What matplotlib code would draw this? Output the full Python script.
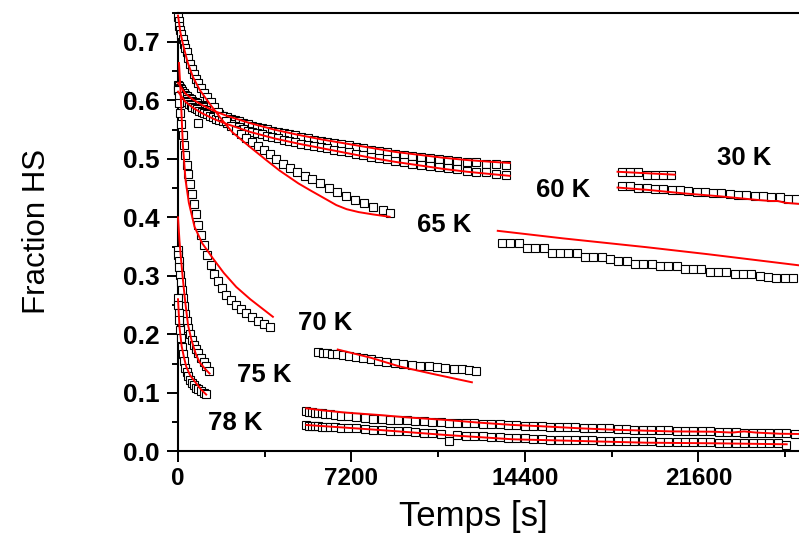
import matplotlib
matplotlib.use('Agg')
import matplotlib.pyplot as plt
from matplotlib.ticker import FixedLocator, MultipleLocator, FormatStrFormatter

# ---------------- data ----------------
# bundle (two slow series, 30 K / 60 K)
T_BUNDLE = [0, 40, 80, 130, 180, 240, 300, 370, 440, 520, 600, 690, 780, 880, 980, 1090,
            1200, 1320, 1450, 1580, 1720, 1870, 2020, 2180, 2350, 2520, 2700, 2890, 3080,
            3280, 3490, 3700, 3920, 4150, 4380, 4620, 4870, 5120, 5380, 5650, 5920, 6200,
            6490, 6780, 7080, 7390, 7700, 8020, 8350, 8680, 9020, 9370, 9720, 10080, 10450,
            10820, 11200, 11590, 11980, 12380, 12790, 13200, 13620]
BUNDLE_A = [0.627, 0.624, 0.621, 0.619, 0.616, 0.612, 0.609, 0.607, 0.604, 0.602, 0.599,
            0.597, 0.595, 0.592, 0.590, 0.588, 0.585, 0.583, 0.581, 0.579, 0.576, 0.574,
            0.571, 0.569, 0.567, 0.565, 0.562, 0.560, 0.557, 0.555, 0.553, 0.551, 0.548,
            0.546, 0.544, 0.542, 0.540, 0.537, 0.535, 0.533, 0.531, 0.529, 0.527, 0.525,
            0.523, 0.521, 0.519, 0.516, 0.514, 0.512, 0.509, 0.507, 0.505, 0.504, 0.502,
            0.500, 0.498, 0.497, 0.495, 0.494, 0.492, 0.491, 0.490]
BUNDLE_B = [0.617, 0.614, 0.611, 0.608, 0.605, 0.602, 0.599, 0.597, 0.594, 0.592, 0.589,
            0.587, 0.585, 0.582, 0.580, 0.578, 0.576, 0.573, 0.571, 0.569, 0.566, 0.564,
            0.561, 0.559, 0.556, 0.554, 0.551, 0.548, 0.546, 0.544, 0.542, 0.539, 0.537,
            0.535, 0.533, 0.531, 0.529, 0.526, 0.524, 0.522, 0.520, 0.518, 0.515, 0.513,
            0.511, 0.509, 0.506, 0.504, 0.501, 0.499, 0.497, 0.494, 0.492, 0.490, 0.488,
            0.486, 0.484, 0.482, 0.480, 0.478, 0.477, 0.475, 0.473]
FIT_A_T = [0, 300, 600, 1000, 1500, 2000, 3000, 4000, 5000, 6000, 7000, 8000, 9000,
           10000, 11000, 12000, 13000, 13770]
FIT_A_Y = [0.630, 0.612, 0.602, 0.592, 0.582, 0.574, 0.561, 0.550, 0.541, 0.533, 0.526,
           0.519, 0.512, 0.507, 0.502, 0.498, 0.495, 0.493]
FIT_B_T = [0, 300, 600, 1000, 1500, 2000, 3000, 4000, 5000, 6000, 7000, 8000, 9000,
           10000, 11000, 12000, 13000, 13770]
FIT_B_Y = [0.615, 0.598, 0.588, 0.578, 0.568, 0.560, 0.546, 0.535, 0.526, 0.518, 0.510,
           0.502, 0.495, 0.489, 0.483, 0.478, 0.474, 0.471]
OUTLIER_T = [823]
OUTLIER_Y = [0.561]

# late segments of the slow series
T_SEG_U = [18413, 18758, 19103, 19451, 19796, 20141, 20461]
SEG_U = [0.477, 0.477, 0.477, 0.473, 0.473, 0.473, 0.473]
FIT_U_T = [18247, 20627]
FIT_U_Y = [0.478, 0.473]
T_SEG_L = [18420, 18765, 19110, 19455, 19800, 20145, 20490, 20835, 21180, 21525, 21870,
           22215, 22560, 22905, 23250, 23595, 23940, 24285, 24630, 24975, 25320, 25665]
SEG_L = [0.454, 0.453, 0.451, 0.450, 0.449, 0.448, 0.447, 0.446, 0.445, 0.444, 0.443,
         0.442, 0.441, 0.440, 0.439, 0.438, 0.437, 0.436, 0.435, 0.434, 0.432, 0.431]
FIT_L_T = [18247, 19500, 21000, 22500, 24000, 24600, 24900, 25200, 25780]
FIT_L_Y = [0.451, 0.447, 0.441, 0.436, 0.430, 0.428, 0.428, 0.425, 0.423]

# 65 K
T_65 = [0, 30, 60, 100, 140, 190, 240, 300, 360, 430, 500, 580, 660, 750, 850, 960, 1080,
        1210, 1350, 1500, 1660, 1830, 2010, 2200, 2400, 2610, 2830, 3060, 3300, 3550, 3810,
        4080, 4360, 4650, 4950, 5260, 5580, 5910, 6250, 6600, 6960, 7330, 7710, 8100, 8500,
        8790]
Y_65 = [0.742, 0.735, 0.727, 0.720, 0.713, 0.705, 0.697, 0.690, 0.682, 0.672, 0.662, 0.654,
        0.646, 0.637, 0.629, 0.621, 0.613, 0.605, 0.597, 0.589, 0.581, 0.573, 0.565, 0.557,
        0.550, 0.543, 0.536, 0.529, 0.522, 0.515, 0.508, 0.499, 0.491, 0.484, 0.477, 0.471,
        0.465, 0.458, 0.451, 0.443, 0.436, 0.430, 0.424, 0.418, 0.412, 0.407]
FIT_65_T = [0, 100, 200, 400, 620, 900, 1300, 1800, 2270, 3000, 3660, 4217, 5000, 5500,
            6016, 6572, 7000, 7500, 8100, 8786]
FIT_65_Y = [0.745, 0.716, 0.697, 0.665, 0.640, 0.618, 0.595, 0.568, 0.545, 0.520, 0.498,
            0.480, 0.458, 0.446, 0.434, 0.421, 0.414, 0.409, 0.405, 0.401]
T_65B = [13450, 13795, 14140, 14485, 14830, 15175, 15520, 15865, 16210, 16555, 16900,
         17245, 17590, 17935, 18280, 18625, 18970, 19315, 19660, 20005, 20350, 20695,
         21040, 21385, 21730, 22075, 22420, 22765, 23110, 23455, 23800, 24145, 24490,
         24835, 25180, 25525]
Y_65B = [0.357, 0.356, 0.356, 0.348, 0.348, 0.348, 0.339, 0.339, 0.339, 0.339, 0.332,
         0.332, 0.332, 0.329, 0.326, 0.325, 0.320, 0.320, 0.320, 0.316, 0.316, 0.316,
         0.312, 0.312, 0.312, 0.307, 0.307, 0.307, 0.303, 0.303, 0.303, 0.300, 0.298,
         0.297, 0.297, 0.297]
FIT_65B_T = [13274, 16000, 19450, 22000, 25780]
FIT_65B_Y = [0.377, 0.364, 0.349, 0.337, 0.318]

# 70 K
T_70 = [0, 30, 60, 100, 140, 190, 240, 300, 360, 430, 500, 580, 660, 750, 850, 960, 1080,
        1210, 1350, 1500, 1660, 1830, 2010, 2200, 2400, 2610, 2830, 3060, 3300, 3550, 3810]
Y_70 = [0.618, 0.607, 0.595, 0.578, 0.560, 0.540, 0.523, 0.506, 0.490, 0.474, 0.457,
        0.440, 0.423, 0.405, 0.387, 0.370, 0.352, 0.335, 0.318, 0.304, 0.291, 0.279,
        0.268, 0.259, 0.250, 0.243, 0.236, 0.229, 0.223, 0.218, 0.213]
FIT_70_T = [40, 100, 133, 199, 312, 450, 685, 1000, 1446, 1900, 2418, 3000, 3500, 3939]
FIT_70_Y = [0.664, 0.620, 0.589, 0.525, 0.464, 0.425, 0.384, 0.356, 0.330, 0.305, 0.281,
            0.260, 0.244, 0.230]
T_70B = [5800, 6000, 6200, 6400, 6600, 6850, 7100, 7400, 7700, 8000, 8300, 8650, 9000,
         9350, 9700, 10050, 10400, 10750, 11100, 11450, 11800, 12100, 12350]
Y_70B = [0.169, 0.168, 0.168, 0.167, 0.166, 0.164, 0.163, 0.161, 0.159, 0.157, 0.155,
         0.153, 0.151, 0.149, 0.148, 0.146, 0.145, 0.144, 0.142, 0.141, 0.140, 0.139, 0.138]
FIT_70B_T = [6630, 8000, 9200, 10500, 12200]
FIT_70B_Y = [0.174, 0.160, 0.145, 0.133, 0.118]

# 75 K
T_75 = [0, 20, 40, 60, 90, 120, 160, 200, 250, 300, 360, 420, 490, 570, 650, 740, 840,
        950, 1060, 1180, 1300]
Y_75 = [0.345, 0.335, 0.325, 0.315, 0.302, 0.290, 0.275, 0.262, 0.248, 0.235, 0.222,
        0.211, 0.200, 0.190, 0.182, 0.175, 0.168, 0.160, 0.152, 0.145, 0.137]
FIT_75_T = [0, 60, 133, 200, 300, 420, 560, 750, 900, 1100, 1310]
FIT_75_Y = [0.400, 0.360, 0.325, 0.295, 0.255, 0.215, 0.190, 0.165, 0.152, 0.142, 0.133]

# 78 K
T_78 = [0, 20, 40, 60, 90, 120, 160, 200, 250, 300, 360, 420, 490, 570, 650, 740, 840,
        950, 1060, 1170]
Y_78 = [0.262, 0.250, 0.237, 0.225, 0.208, 0.194, 0.178, 0.166, 0.154, 0.143, 0.135,
        0.128, 0.122, 0.117, 0.113, 0.109, 0.106, 0.103, 0.100, 0.098]
FIT_78_T = [0, 60, 150, 250, 340, 500, 760, 950, 1170]
FIT_78_Y = [0.260, 0.213, 0.180, 0.160, 0.145, 0.130, 0.116, 0.106, 0.097]

# late low segments
T_LOW = [5330, 5450, 5570, 5700, 5830, 5970, 6120, 6300, 6500, 6750, 7050, 7400, 7750,
         8100, 8450, 8800, 9150, 9500, 9850, 10200, 10550, 10900, 11250, 11600, 11950,
         12300, 12650, 13000, 13350, 13700, 14050, 14400, 14750, 15100, 15450, 15800,
         16150, 16500, 16850, 17200, 17550, 17900, 18250, 18600, 18950, 19300, 19650,
         20000, 20350, 20700, 21050, 21400, 21750, 22100, 22450, 22800, 23150, 23500,
         23850, 24200, 24550, 24900, 25250, 25600]
LOW_UP = [0.069, 0.068, 0.067, 0.066, 0.066, 0.065, 0.064, 0.063, 0.062, 0.061, 0.060,
          0.058, 0.057, 0.056, 0.055, 0.054, 0.054, 0.053, 0.052, 0.051, 0.050, 0.050,
          0.049, 0.049, 0.048, 0.048, 0.047, 0.046, 0.046, 0.045, 0.045, 0.044, 0.044,
          0.043, 0.042, 0.042, 0.041, 0.041, 0.040, 0.040, 0.039, 0.039, 0.038, 0.038,
          0.037, 0.037, 0.036, 0.036, 0.036, 0.035, 0.035, 0.034, 0.034, 0.034, 0.033,
          0.033, 0.033, 0.032, 0.032, 0.032, 0.031, 0.031, 0.031, 0.030]
LOW_DN = [0.045, 0.044, 0.044, 0.043, 0.043, 0.042, 0.042, 0.041, 0.041, 0.040, 0.040,
          0.039, 0.038, 0.037, 0.036, 0.035, 0.034, 0.034, 0.033, 0.032, 0.031, 0.030,
          0.017, 0.028, 0.027, 0.027, 0.026, 0.025, 0.024, 0.023, 0.022, 0.022, 0.021,
          0.021, 0.020, 0.020, 0.020, 0.019, 0.019, 0.019, 0.018, 0.018, 0.018, 0.017,
          0.017, 0.017, 0.017, 0.016, 0.016, 0.016, 0.016, 0.016, 0.016, 0.016, 0.015,
          0.015, 0.015, 0.015, 0.014, 0.014, 0.014, 0.014, 0.011]
FIT_LUP_T = [5326, 6000, 7000, 8371, 9500, 11142, 12500, 13910, 15000, 16680, 18000, 19451,
             20500, 22219, 23000, 23500, 24000, 24990, 25780]
FIT_LUP_Y = [0.0735, 0.070, 0.066, 0.062, 0.058, 0.0535, 0.049, 0.045, 0.043, 0.0393, 0.037,
             0.0352, 0.034, 0.0335, 0.032, 0.034, 0.032, 0.030, 0.0296]
FIT_LDN_T = [5326, 8371, 11142, 13910, 16680, 19451, 22219, 25270]
FIT_LDN_Y = [0.045, 0.0364, 0.0278, 0.0205, 0.0176, 0.0147, 0.0137, 0.012]

LABELS = ["30 K", "60 K", "65 K", "70 K", "75 K", "78 K"]
LABEL_T = [23494, 15974, 11030, 6128, 3594, 2389]
LABEL_Y = [0.502, 0.4466, 0.387, 0.220, 0.131, 0.048]

X_TICKS = [0, 7200, 14400, 21600]

# ---------------- plot ----------------
plt.rcParams['font.family'] = ['Liberation Sans', 'DejaVu Sans']

fig = plt.figure(figsize=(7.99, 5.33), dpi=100)
ax = fig.add_axes([0.2228, 0.1533, 0.7772, 0.8229])


def data(t, y):
    ax.plot(t, y, ls='none', marker='s', ms=6.4, mfc='white', mec='black',
            mew=0.8, zorder=3, clip_on=False)


def fit(t, y):
    ax.plot(t, y, color='#ff0000', lw=1.4, zorder=4, clip_on=False)


series = [
    (T_BUNDLE, BUNDLE_A, FIT_A_T, FIT_A_Y),
    (T_BUNDLE, BUNDLE_B, FIT_B_T, FIT_B_Y),
    (T_SEG_U, SEG_U, FIT_U_T, FIT_U_Y),
    (T_SEG_L, SEG_L, FIT_L_T, FIT_L_Y),
    (T_65, Y_65, FIT_65_T, FIT_65_Y),
    (T_65B, Y_65B, FIT_65B_T, FIT_65B_Y),
    (T_70, Y_70, FIT_70_T, FIT_70_Y),
    (T_70B, Y_70B, FIT_70B_T, FIT_70B_Y),
    (T_75, Y_75, FIT_75_T, FIT_75_Y),
    (T_78, Y_78, FIT_78_T, FIT_78_Y),
    (T_LOW, LOW_UP, FIT_LUP_T, FIT_LUP_Y),
    (T_LOW[:len(LOW_DN)], LOW_DN, FIT_LDN_T, FIT_LDN_Y),
]
for t, y, ft, fy in series:
    data(t, y)
for t, y, ft, fy in series:
    fit(ft, fy)
data(OUTLIER_T, OUTLIER_Y)

for lab, lt, ly in zip(LABELS, LABEL_T, LABEL_Y):
    ax.text(lt, ly, lab, ha='center', va='center', fontsize=18.5, fontweight='bold',
            zorder=5)

ax.set_xlim(0, 25780)
ax.set_ylim(0, 0.75)
ax.xaxis.set_major_locator(FixedLocator(X_TICKS))
ax.xaxis.set_minor_locator(MultipleLocator(3600))
ax.yaxis.set_major_locator(MultipleLocator(0.1))
ax.yaxis.set_minor_locator(MultipleLocator(0.05))
ax.yaxis.set_major_formatter(FormatStrFormatter('%.1f'))

for s in ['left', 'bottom', 'top']:
    ax.spines[s].set_linewidth(1.5)
ax.spines['right'].set_visible(False)
ax.tick_params(which='major', direction='out', length=8, width=1.4, pad=3)
ax.tick_params(axis='x', which='major', labelsize=17.5)
ax.tick_params(axis='y', which='major', labelsize=19, pad=5)
ax.tick_params(which='minor', direction='out', length=4.5, width=1.4)
ax.tick_params(top=False, right=False, which='both')
for lbl in ax.get_xticklabels() + ax.get_yticklabels():
    lbl.set_fontweight('bold')

ax.set_xlabel('Temps [s]', fontsize=25)
ax.xaxis.set_label_coords(0.475, -0.11)
ax.set_ylabel('Fraction HS', fontsize=22.5)
ax.yaxis.set_label_coords(-0.203, 0.5)

fig.savefig('out.png', dpi=100)
